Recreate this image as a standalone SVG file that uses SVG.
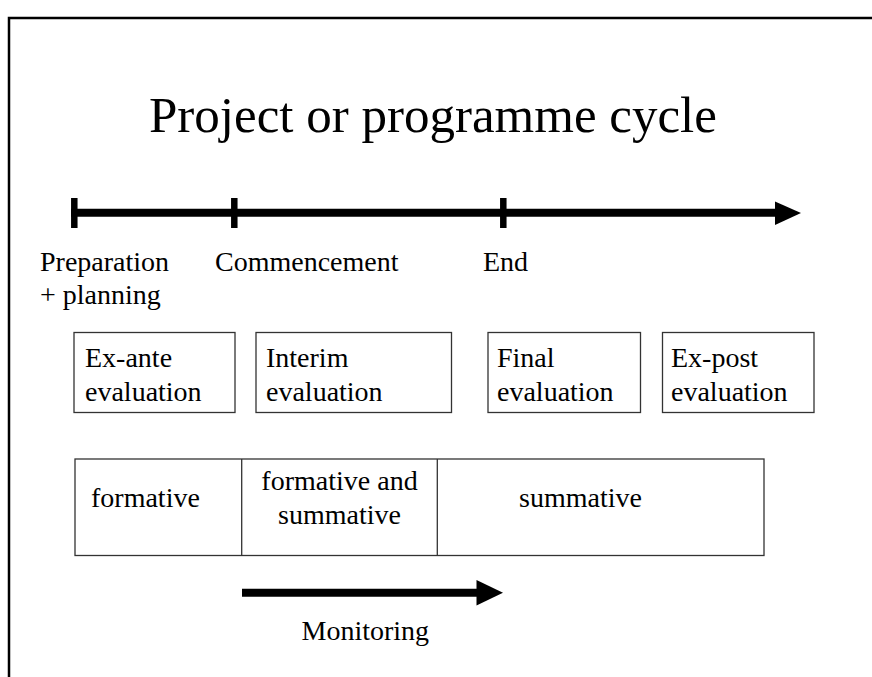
<svg xmlns="http://www.w3.org/2000/svg" width="872" height="677" viewBox="0 0 872 677">
<defs>
<style>
text{font-family:"Liberation Serif","Times New Roman",serif;fill:#000}
.t{font-size:28px}
.title{font-size:51px}
.box{fill:#fff;stroke:#333;stroke-width:1.3}
.heavy{stroke:#000;stroke-width:8;fill:none}
.tick{stroke:#000;stroke-width:6.5}
</style>
</defs>
<rect width="872" height="677" fill="#fff"/>
<g id="frame"><path d="M9,677 V18 H872" fill="none" stroke="#000" stroke-width="2.5"/></g>
<g id="title"><text class="title" x="149" y="132">Project or programme cycle</text></g>
<g id="connectors">
<line class="heavy" x1="71" y1="212.7" x2="778" y2="212.7"/>
<polygon points="775,201.5 801,213 775,225" fill="#000"/>
<line class="tick" x1="74.3" y1="198" x2="74.3" y2="228"/>
<line class="tick" x1="234.3" y1="198" x2="234.3" y2="228"/>
<line class="tick" x1="503.3" y1="198" x2="503.3" y2="228"/>
<line class="heavy" x1="242" y1="592.7" x2="480" y2="592.7" stroke-width="9"/>
<polygon points="476.5,580 503,592.7 476.5,605.5" fill="#000"/>
</g>
<g id="labels">
<text class="t" x="40" y="271">Preparation</text>
<text class="t" x="40" y="304">+ planning</text>
<text class="t" x="215" y="271">Commencement</text>
<text class="t" x="483" y="271">End</text>
</g>
<g id="ex-ante"><rect class="box" x="74" y="332.5" width="161" height="80"/><text class="t" x="85" y="367">Ex-ante</text><text class="t" x="85" y="401">evaluation</text></g>
<g id="interim"><rect class="box" x="256" y="332.5" width="195.5" height="80"/><text class="t" x="266" y="367">Interim</text><text class="t" x="266" y="401">evaluation</text></g>
<g id="final"><rect class="box" x="488" y="332.5" width="152.5" height="80"/><text class="t" x="497" y="367">Final</text><text class="t" x="497" y="401">evaluation</text></g>
<g id="ex-post"><rect class="box" x="662.5" y="332.5" width="151.5" height="80"/><text class="t" x="671" y="367">Ex-post</text><text class="t" x="671" y="401">evaluation</text></g>
<g id="phases">
<rect class="box" x="75" y="459" width="689" height="96.5"/>
<line x1="241.7" y1="459" x2="241.7" y2="555.5" stroke="#333" stroke-width="1.3"/>
<line x1="437.3" y1="459" x2="437.3" y2="555.5" stroke="#333" stroke-width="1.3"/>
<text class="t" x="91" y="507">formative</text>
<text class="t" x="339.5" y="490" text-anchor="middle">formative and</text>
<text class="t" x="339.5" y="524" text-anchor="middle">summative</text>
<text class="t" x="519" y="507">summative</text>
</g>
<g id="monitoring"><text class="t" x="301.5" y="640">Monitoring</text></g>
</svg>
